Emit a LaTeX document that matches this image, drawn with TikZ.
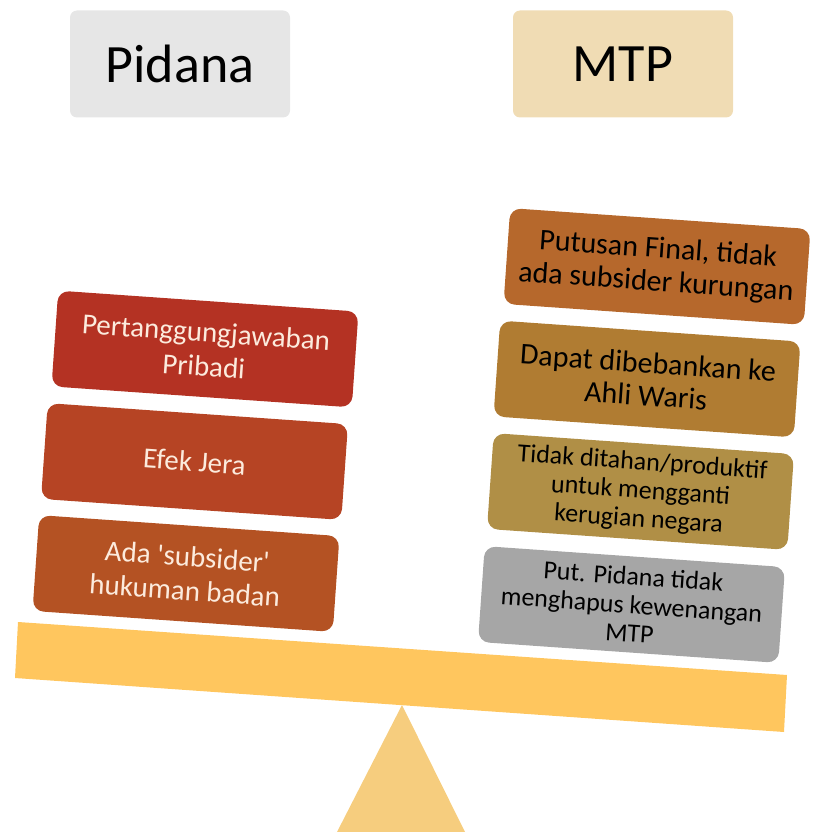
\documentclass[tikz,border=0pt]{standalone}
\usepackage{fontspec}
\setmainfont{Carlito}
\definecolor{pidanagray}{HTML}{E6E6E6}
\definecolor{mtpbeige}{HTML}{F0DCB4}
\definecolor{cPert}{HTML}{B43223}
\definecolor{cEfek}{HTML}{B64424}
\definecolor{cAda}{HTML}{B45223}
\definecolor{cPutusan}{HTML}{B6682C}
\definecolor{cDapat}{HTML}{B07C32}
\definecolor{cTidak}{HTML}{B08F46}
\definecolor{cPut}{HTML}{A6A6A6}
\definecolor{beamcol}{HTML}{FFC65E}
\definecolor{fulcol}{HTML}{F6CD7E}
\definecolor{lighttext}{HTML}{FCEBDD}
\begin{document}
\begin{tikzpicture}[x=1pt,y=-1pt,
  head/.style={rounded corners=7pt, minimum width=220pt, minimum height=107pt,
    inner sep=0pt, font=\fontsize{54}{62}\selectfont, text=black},
  wbox/.style={rounded corners=11pt, minimum width=301pt, minimum height=96pt,
    inner sep=2pt, align=center, rotate=-4},
  lbox/.style={wbox, text=lighttext, font=\fontsize{29}{34}\selectfont},
  rbox/.style={wbox, text=black, font=\fontsize{30}{33}\selectfont},
  rboxs/.style={wbox, text=black, font=\fontsize{26}{28.5}\selectfont},
  beam/.style={fill=beamcol},
  fulcrum/.style={fill=fulcol}]
\useasboundingbox (0,0) rectangle (814,832);
% fulcrum and beam
\fill[fulcrum] (402,705) -- (337,832) -- (465,832) -- cycle;
\fill[beam] (18,622) -- (787,675) -- (784,732) -- (15,678) -- cycle;
% headers
\node[head, fill=pidanagray] (pidana) at (180,64) {Pidana};
\node[head, fill=mtpbeige] (mtp) at (623,64) {MTP};
% left stack
\node[lbox, fill=cPert] (pert) at (205,349) {Pertanggungjawaban\\Pribadi};
\node[lbox, fill=cEfek] (efek) at (194.5,461.5) {Efek Jera};
\node[lbox, fill=cAda] (ada) at (186,573.5) {Ada \textquotesingle subsider\textquotesingle\\hukuman badan};
% right stack
\node[rbox, fill=cPutusan] (putusan) at (657,266.5) {Putusan Final, tidak\\ada subsider kurungan};
\node[rbox, fill=cDapat] (dapat) at (647,379) {Dapat dibebankan ke\\Ahli Waris};
\node[rboxs, fill=cTidak] (tidak) at (640.5,491.5) {Tidak ditahan/produktif\\untuk mengganti\\kerugian negara};
\node[rboxs, fill=cPut] (put) at (631.5,604.5) {Put. Pidana tidak\\menghapus kewenangan\\MTP};
\end{tikzpicture}
\end{document}
